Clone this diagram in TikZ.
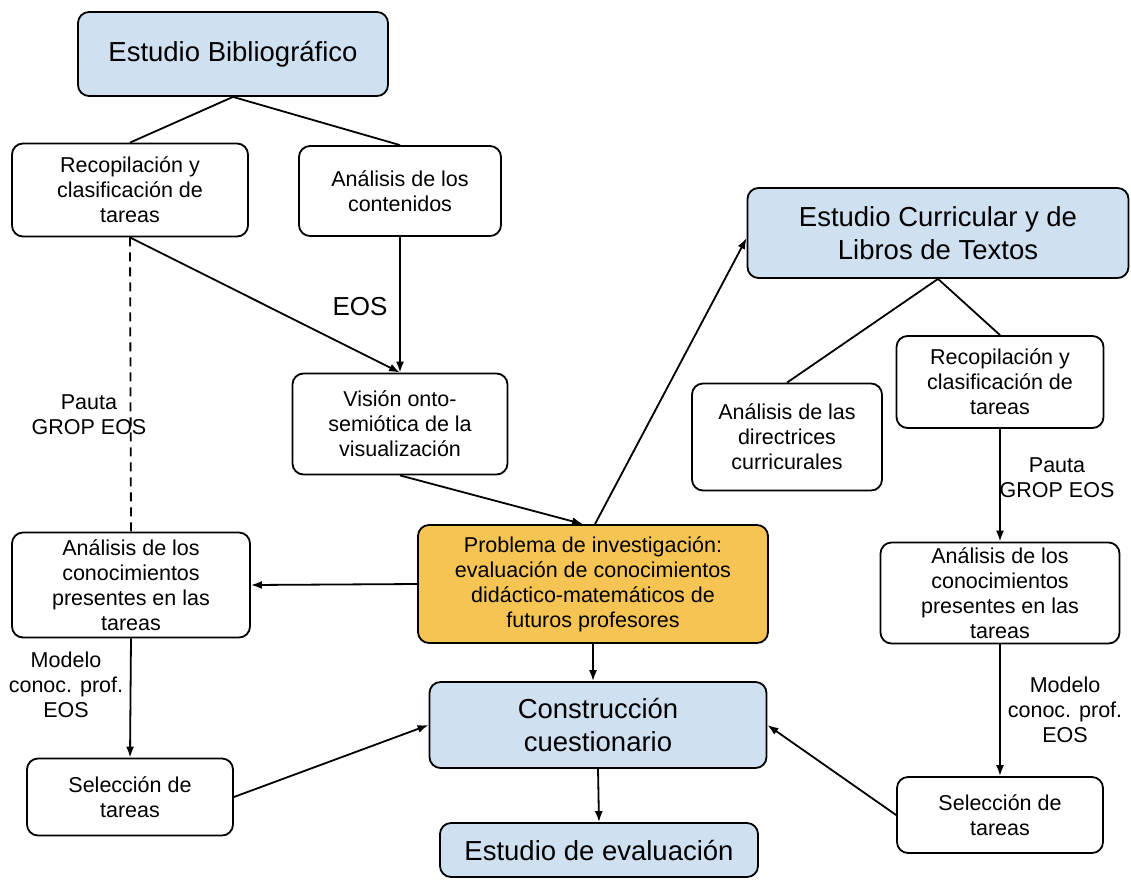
\documentclass[tikz,border=0pt]{standalone}
\usepackage{fontspec}
\setmainfont{Liberation Sans}
\usetikzlibrary{arrows.meta,calc}

\definecolor{cajaazul}{RGB}{207,224,241}
\definecolor{cajanaranja}{RGB}{246,196,82}

\begin{document}
\begin{tikzpicture}[
    x=1pt, y=-1pt,
    font=\fontsize{21.5}{25}\selectfont,
    caja/.style={draw, line width=1.8pt, rounded corners=11pt,
                 align=center, fill=white, inner sep=2pt},
    titulo/.style={caja, fill=cajaazul, font=\fontsize{27.5}{33}\selectfont},
    problema/.style={caja, fill=cajanaranja},
    flecha/.style={-{Latex[length=11pt,width=8pt]}, line width=1.8pt},
    linea/.style={line width=1.8pt},
    etiq/.style={align=center, inner sep=0pt}
  ]
    \useasboundingbox (0,0) rectangle (1131,879);
    \node[titulo, minimum width=310pt, minimum height=84pt] (bib) at (233,54) {Estudio Bibliográfico};
    \node[caja, minimum width=236pt, minimum height=93pt] (recA) at (130,190) {Recopilación y\\clasificación de\\tareas};
    \node[caja, minimum width=202pt, minimum height=90pt] (contA) at (400,191) {Análisis de los\\contenidos};
    \node[caja, minimum width=215pt, minimum height=101pt] (vision) at (400,424) {Visión onto-\\semiótica de la\\visualización};
    \node[problema, minimum width=350pt, minimum height=118pt] (prob) at (593,584) {Problema de investigación:\\evaluación de conocimientos\\didáctico-matemáticos de\\futuros profesores};
    \node[titulo, minimum width=381pt, minimum height=90pt] (curr) at (938,233) {Estudio Curricular y de\\Libros de Textos};
    \node[caja, minimum width=190pt, minimum height=107pt] (direc) at (787,437) {Análisis de las\\directrices\\curricurales};
    \node[caja, minimum width=207pt, minimum height=92pt] (recB) at (1000,382) {Recopilación y\\clasificación de\\tareas};
    \node[caja, minimum width=238pt, minimum height=105pt] (conA) at (131,585) {Análisis de los\\conocimientos\\presentes en las\\tareas};
    \node[caja, minimum width=239pt, minimum height=101pt] (conB) at (1000,593) {Análisis de los\\conocimientos\\presentes en las\\tareas};
    \node[caja, minimum width=206pt, minimum height=77pt] (selA) at (130,797) {Selección de\\tareas};
    \node[caja, minimum width=206pt, minimum height=76pt] (selB) at (1000,815) {Selección de\\tareas};
    \node[titulo, minimum width=337pt, minimum height=86pt] (constr) at (598,725) {Construcción\\cuestionario};
    \node[titulo, minimum width=318pt, minimum height=54pt] (evalu) at (599,850) {Estudio de evaluación};

    \node[etiq, font=\fontsize{26}{30}\selectfont] (eosA) at (360,307) {EOS};
    \node[etiq] (pautaA) at (89,415) {Pauta\\GROP EOS};
    \node[etiq] (pautaB) at (1057,478) {Pauta\\GROP EOS};
    \node[etiq] (modeloA) at (66,685) {Modelo\\conoc. prof.\\EOS};
    \node[etiq] (modeloB) at (1065,710) {Modelo\\conoc. prof.\\EOS};

    \draw[linea] (bib.south) -- (recA.north);
    \draw[linea] (bib.south) -- (contA.north);
    \draw[linea, dash pattern=on 9pt off 6pt] (recA.south) -- (conA.north);
    \draw[flecha] (recA.south) -- (vision.north);
    \draw[flecha] (contA.south) -- (vision.north);
    \draw[flecha] (vision.south) -- ([xshift=-10pt]prob.north);
    \draw[flecha] ([xshift=2pt]prob.north) -- ([yshift=-5pt]curr.west);
    \draw[linea] (curr.south) -- (direc.north);
    \draw[linea] (curr.south) -- (recB.north);
    \draw[flecha] (recB.south) -- (conB.north);
    \draw[flecha] (prob.west) -- (conA.east);
    \draw[flecha] (conA.south) -- (selA.north);
    \draw[flecha] (selA.east) -- (constr.west);
    \draw[flecha] (prob.south) -- (prob.south |- constr.north);
    \draw[flecha] (constr.south) -- (evalu.north);
    \draw[flecha] (conB.south) -- (selB.north);
    \draw[flecha] (selB.west) -- (constr.east);
  \end{tikzpicture}
\end{document}
